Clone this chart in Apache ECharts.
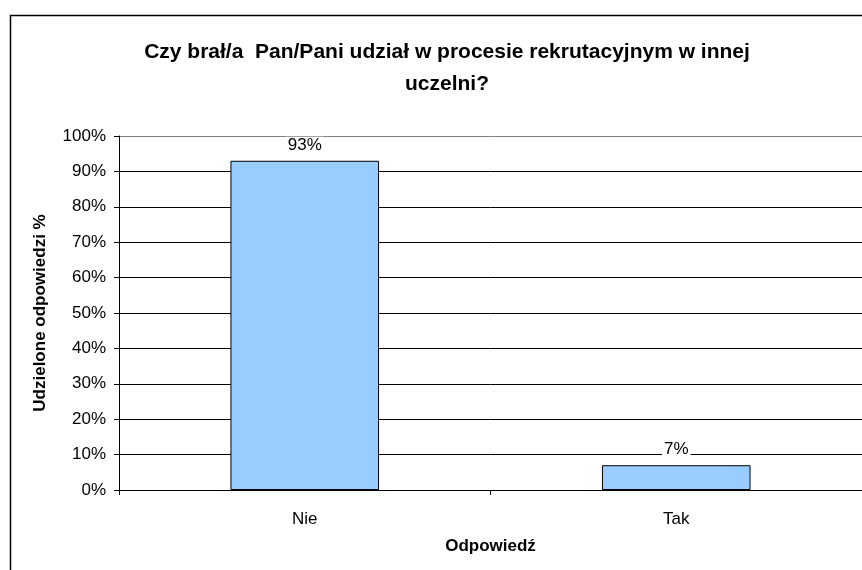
<!DOCTYPE html>
<html>
<head>
<meta charset="utf-8">
<script src="https://cdn.jsdelivr.net/npm/echarts@6/dist/echarts.min.js"></script>
<style>
  html, body { margin: 0; padding: 0; background: #fff; }
  #chart { width: 862px; height: 570px; }
</style>
</head>
<body>
<div id="chart"></div>
<script>
// data
const categories = ['Nie', 'Tak'];
const answerShare = [93, 7];
const yTicks = { min: 0, max: 100, interval: 10 };

const titleText = 'Czy brał/a  Pan/Pani udział w procesie rekrutacyjnym w innej\nuczelni?';
const yName = 'Udzielone odpowiedzi %';
const xName = 'Odpowiedź';

const font = '"Liberation Sans", Arial, sans-serif';

let chart = echarts.init(document.getElementById('chart'));

// split line colours: every line black except top (100%) which is gray
let splitColors = [];
for (let i = 0; i <= 10; i++) splitColors.push(i === 10 ? '#808080' : '#000');

let option = {
  backgroundColor: '#fff',
  animation: false,
  textStyle: { fontFamily: font },
  graphic: [{
    type: 'rect',
    shape: { x: 10.5, y: 15.5, width: 900, height: 600 },
    style: { fill: 'none', stroke: '#000', lineWidth: 1.5 },
    silent: true
  }],
  title: {
    text: titleText,
    left: 442,
    top: 31,
    textAlign: 'center',
    textStyle: {
      fontFamily: font,
      fontSize: 21,
      fontWeight: 'bold',
      color: '#000',
      lineHeight: 32
    }
  },
  grid: {
    left: 119,
    right: -1,
    top: 136,
    bottom: 80,
    containLabel: false
  },
  xAxis: {
    type: 'category',
    data: categories,
    name: xName,
    nameLocation: 'middle',
    nameGap: 48,
    nameTextStyle: { fontFamily: font, fontSize: 17, fontWeight: 'bold', color: '#000' },
    axisLine: { lineStyle: { color: '#000', width: 1 } },
    axisTick: { show: true, alignWithLabel: false, length: 5, lineStyle: { color: '#000' } },
    axisLabel: { fontFamily: font, fontSize: 17, color: '#000', margin: 21 }
  },
  yAxis: {
    type: 'value',
    min: yTicks.min,
    max: yTicks.max,
    interval: yTicks.interval,
    name: yName,
    nameLocation: 'middle',
    nameGap: 70,
    nameRotate: 90,
    nameTextStyle: { fontFamily: font, fontSize: 17, fontWeight: 'bold', color: '#000' },
    axisLine: { show: true, lineStyle: { color: '#000', width: 1 } },
    axisTick: { show: true, length: 5, lineStyle: { color: '#000' } },
    axisLabel: { fontFamily: font, fontSize: 17, color: '#000', margin: 13, formatter: '{value}%' },
    splitLine: { show: true, lineStyle: { color: splitColors, width: 1 } }
  },
  series: [{
    type: 'bar',
    data: answerShare,
    barWidth: '40%',
    itemStyle: { color: '#99ccff', borderColor: '#000', borderWidth: 1 },
    label: {
      show: true,
      position: 'top',
      distance: 7,
      formatter: '{c}%',
      fontFamily: font,
      fontSize: 17,
      color: '#000',
      backgroundColor: '#fff',
      padding: [0, 2]
    }
  }]
};

option && chart.setOption(option);
</script>
</body>
</html>
